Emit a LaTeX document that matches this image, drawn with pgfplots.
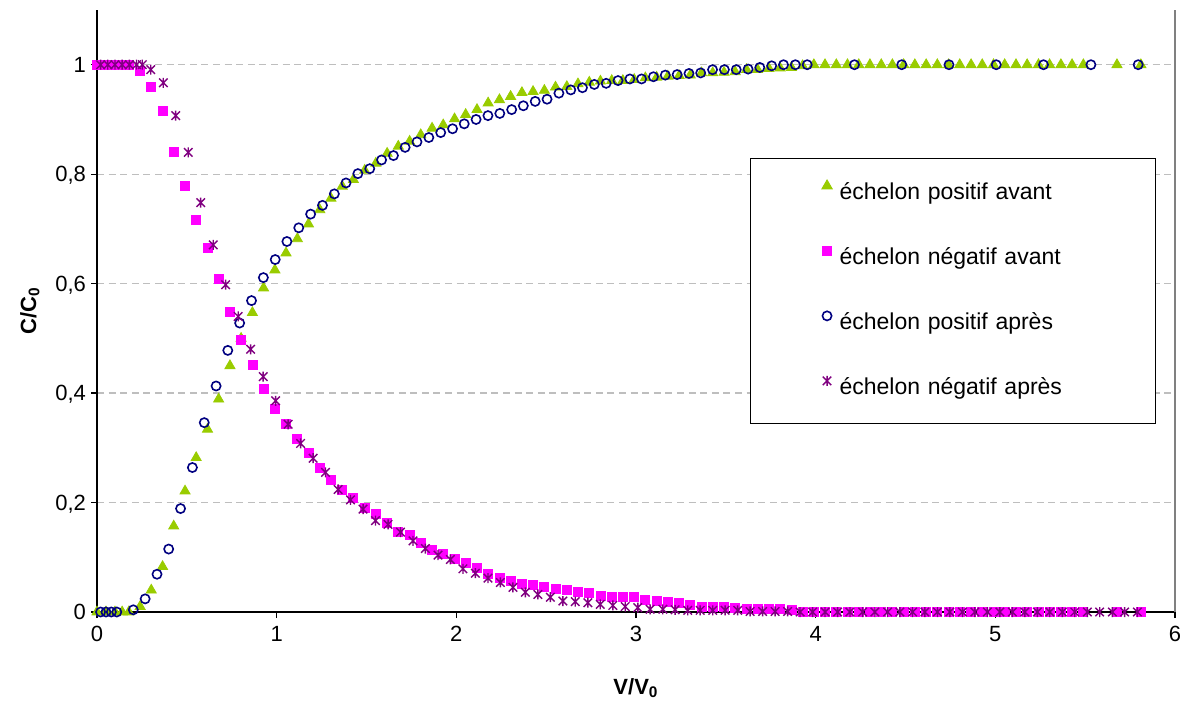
\documentclass[border=0pt]{standalone}
\usepackage{fontspec}
\setmainfont{Liberation Sans}
\usepackage{pgfplots}
\pgfplotsset{compat=1.18}

\definecolor{cgreen}{RGB}{153,204,0}
\definecolor{cmag}{RGB}{255,0,255}
\definecolor{cnavy}{RGB}{0,0,128}
\definecolor{cpurp}{RGB}{128,0,128}
\definecolor{cgrid}{RGB}{190,190,190}
\definecolor{cedge}{RGB}{128,128,128}

\pgfdeclareplotmark{xstar}{%
  \pgfpathmoveto{\pgfqpoint{-0.85\pgfplotmarksize}{-0.85\pgfplotmarksize}}%
  \pgfpathlineto{\pgfqpoint{0.85\pgfplotmarksize}{0.85\pgfplotmarksize}}%
  \pgfpathmoveto{\pgfqpoint{-0.85\pgfplotmarksize}{0.85\pgfplotmarksize}}%
  \pgfpathlineto{\pgfqpoint{0.85\pgfplotmarksize}{-0.85\pgfplotmarksize}}%
  \pgfpathmoveto{\pgfqpoint{0pt}{-\pgfplotmarksize}}%
  \pgfpathlineto{\pgfqpoint{0pt}{\pgfplotmarksize}}%
  \pgfusepathqstroke}

\begin{document}
\begin{tikzpicture}
\path[use as bounding box] (0,0) rectangle (597.5pt,351pt);
\begin{axis}[
  at={(48.5pt,45pt)}, anchor=south west,
  scale only axis, width=539pt, height=301pt,
  xmin=0, xmax=6, ymin=0, ymax=1.1,
  clip=false,
  axis x line*=bottom, axis y line*=left,
  axis line style={black, line width=0.6pt},
  xtick={0,1,2,3,4,5,6},
  xticklabels={0,1,2,3,4,5,6},
  ytick={0,0.2,0.4,0.6,0.8,1},
  yticklabels={0,{0,2},{0,4},{0,6},{0,8},1},
  tick align=outside, major tick length=3pt,
  tick style={black, line width=0.6pt},
  ymajorgrids,
  grid style={cgrid, dash pattern=on 3.5pt off 2.3pt, line width=0.6pt},
  ticklabel style={font=\fontsize{11}{13}\selectfont},
  xticklabel style={anchor=base, yshift=-11.5pt},
  yticklabel style={anchor=base east, yshift=-3.9pt, xshift=1pt},
  xlabel={\textbf{V/V\textsubscript{0}}},
  ylabel={\textbf{C/C\textsubscript{0}}},
  label style={font=\fontsize{11}{13}\selectfont},
  xlabel style={at={(axis description cs:0.5,-0.1262)}, anchor=center},
  ylabel style={at={(axis description cs:-0.0622,0.5)}, anchor=center},
  legend style={at={(0.6058,0.7542)}, anchor=north west, draw=black,
    line width=0.5pt, fill=white,
    inner xsep=0pt, inner ysep=1.25pt, row sep=0pt, column sep=0pt,
    font=\fontsize{11.5}{14}\selectfont,
    nodes={text width=155pt, inner xsep=3pt, inner ysep=0pt,
      text height=19.5pt, text depth=13pt, align=left}},
  legend cell align=left,
  legend image code/.code={\path (-38pt,0pt) (3pt,0pt);
    \draw[#1] plot coordinates {(0pt,3.8pt)};},
]
\addplot[only marks, mark=triangle*, mark size=2.9pt, color=cgreen, mark options={draw=cgreen, fill=cgreen}] coordinates {
(0,0) (0.05,0) (0.1,0) (0.14,0) (0.177,0) (0.240,0.01) (0.302,0.04) (0.365,0.083) (0.427,0.157) (0.490,0.221) (0.552,0.282) (0.615,0.334) (0.677,0.389) (0.740,0.450) (0.802,0.500) (0.865,0.547) (0.927,0.592) (0.990,0.625) (1.052,0.656) (1.115,0.682) (1.177,0.709) (1.240,0.735) (1.302,0.756) (1.365,0.778) (1.427,0.790) (1.490,0.807) (1.552,0.820) (1.615,0.838) (1.677,0.851) (1.740,0.860) (1.802,0.872) (1.865,0.884) (1.927,0.890) (1.990,0.901) (2.052,0.909) (2.115,0.918) (2.177,0.930) (2.240,0.936) (2.302,0.942) (2.365,0.949) (2.427,0.951) (2.490,0.953) (2.552,0.959) (2.615,0.960) (2.677,0.965) (2.740,0.968) (2.802,0.970) (2.865,0.971) (2.927,0.971) (2.990,0.973) (3.052,0.976) (3.115,0.977) (3.177,0.979) (3.240,0.980) (3.302,0.981) (3.365,0.985) (3.427,0.985) (3.490,0.986) (3.552,0.987) (3.615,0.991) (3.677,0.991) (3.740,0.993) (3.802,0.994) (3.865,0.995) (3.927,0.998) (3.990,1) (4.052,1) (4.115,1) (4.177,1) (4.240,1) (4.302,1) (4.365,1) (4.427,1) (4.490,1) (4.552,1) (4.615,1) (4.677,1) (4.740,1) (4.802,1) (4.865,1) (4.927,1) (4.990,1) (5.052,1) (5.115,1) (5.177,1) (5.240,1) (5.302,1) (5.365,1) (5.427,1) (5.490,1) (5.677,1) (5.810,1)
};
\addlegendentry{échelon positif avant}
\addplot[only marks, mark=square*, mark size=2.25pt, color=cmag, mark options={draw=cmag, fill=cmag}] coordinates {
(0,1) (0.03,1) (0.06,1) (0.09,1) (0.12,1) (0.15,1) (0.177,1) (0.240,0.988) (0.302,0.959) (0.365,0.915) (0.427,0.840) (0.490,0.778) (0.552,0.717) (0.615,0.665) (0.677,0.609) (0.740,0.548) (0.802,0.497) (0.865,0.452) (0.927,0.407) (0.990,0.372) (1.052,0.343) (1.115,0.316) (1.177,0.290) (1.240,0.263) (1.302,0.242) (1.365,0.223) (1.427,0.208) (1.490,0.191) (1.552,0.179) (1.615,0.162) (1.677,0.147) (1.740,0.141) (1.802,0.127) (1.865,0.113) (1.927,0.107) (1.990,0.097) (2.052,0.090) (2.115,0.080) (2.177,0.069) (2.240,0.063) (2.302,0.057) (2.365,0.052) (2.427,0.049) (2.490,0.046) (2.552,0.043) (2.615,0.040) (2.677,0.036) (2.740,0.034) (2.802,0.030) (2.865,0.028) (2.927,0.027) (2.990,0.027) (3.052,0.023) (3.115,0.020) (3.177,0.019) (3.240,0.016) (3.302,0.013) (3.365,0.010) (3.427,0.010) (3.490,0.010) (3.552,0.007) (3.615,0.006) (3.677,0.006) (3.740,0.006) (3.802,0.005) (3.865,0.004) (3.927,0.001) (3.990,0) (4.052,0) (4.115,0) (4.177,0) (4.240,0) (4.302,0) (4.365,0) (4.427,0) (4.490,0) (4.552,0) (4.615,0) (4.677,0) (4.740,0) (4.802,0) (4.865,0) (4.927,0) (4.990,0) (5.052,0) (5.115,0) (5.177,0) (5.240,0) (5.302,0) (5.365,0) (5.427,0) (5.490,0) (5.677,0) (5.810,0)
};
\addlegendentry{échelon négatif avant}
\addplot[only marks, mark=o, mark size=2.3pt, color=cnavy, mark options={draw=cnavy, line width=0.8pt}] coordinates {
(0.02,0) (0.05,0) (0.08,0) (0.11,0) (0.202,0.004) (0.268,0.024) (0.334,0.069) (0.399,0.115) (0.465,0.189) (0.531,0.264) (0.597,0.346) (0.663,0.413) (0.728,0.478) (0.794,0.528) (0.860,0.569) (0.926,0.611) (0.992,0.644) (1.057,0.677) (1.123,0.702) (1.189,0.727) (1.255,0.743) (1.321,0.764) (1.386,0.784) (1.452,0.801) (1.518,0.810) (1.584,0.826) (1.650,0.834) (1.715,0.849) (1.781,0.859) (1.847,0.867) (1.913,0.876) (1.979,0.883) (2.044,0.892) (2.110,0.900) (2.176,0.907) (2.242,0.911) (2.308,0.918) (2.373,0.925) (2.439,0.933) (2.505,0.937) (2.571,0.948) (2.637,0.954) (2.702,0.958) (2.768,0.964) (2.834,0.966) (2.900,0.971) (2.966,0.974) (3.031,0.974) (3.097,0.978) (3.163,0.981) (3.229,0.982) (3.295,0.984) (3.360,0.985) (3.426,0.991) (3.492,0.991) (3.558,0.991) (3.624,0.992) (3.689,0.995) (3.755,0.998) (3.821,1) (3.887,1) (3.953,1) (4.216,1) (4.479,1) (4.742,1) (5.005,1) (5.268,1) (5.532,1) (5.795,1)
};
\addlegendentry{échelon positif après}
\addplot[only marks, mark=xstar, mark size=2.5pt, color=cpurp, mark options={draw=cpurp, line width=0.7pt}] coordinates {
(0.02,1) (0.06,1) (0.10,1) (0.14,1) (0.18,1) (0.22,1) (0.252,1) (0.299,0.991) (0.369,0.967) (0.438,0.907) (0.508,0.840) (0.577,0.748) (0.647,0.671) (0.716,0.598) (0.786,0.540) (0.855,0.480) (0.925,0.430) (0.994,0.386) (1.064,0.343) (1.133,0.308) (1.203,0.281) (1.272,0.255) (1.342,0.224) (1.411,0.205) (1.481,0.188) (1.550,0.167) (1.620,0.160) (1.689,0.146) (1.759,0.130) (1.828,0.116) (1.898,0.104) (1.967,0.096) (2.037,0.079) (2.106,0.071) (2.176,0.062) (2.245,0.054) (2.315,0.045) (2.384,0.036) (2.454,0.032) (2.523,0.027) (2.593,0.020) (2.662,0.019) (2.732,0.017) (2.801,0.014) (2.871,0.012) (2.940,0.010) (3.010,0.008) (3.079,0.005) (3.149,0.005) (3.218,0.004) (3.288,0.003) (3.357,0.003) (3.427,0.003) (3.496,0.003) (3.566,0.003) (3.635,0.001) (3.705,0.001) (3.774,0.001) (3.844,0.001) (3.913,0) (3.983,0) (4.052,0) (4.122,0) (4.191,0) (4.261,0) (4.330,0) (4.400,0) (4.469,0) (4.539,0) (4.608,0) (4.678,0) (4.747,0) (4.817,0) (4.886,0) (4.956,0) (5.025,0) (5.095,0) (5.164,0) (5.234,0) (5.303,0) (5.373,0) (5.442,0) (5.512,0) (5.581,0) (5.651,0) (5.720,0) (5.790,0)
};
\addlegendentry{échelon négatif après}
\draw[cedge, line width=0.6pt] (rel axis cs:1,0) -- (rel axis cs:1,1);
\end{axis}
\end{tikzpicture}
\end{document}
